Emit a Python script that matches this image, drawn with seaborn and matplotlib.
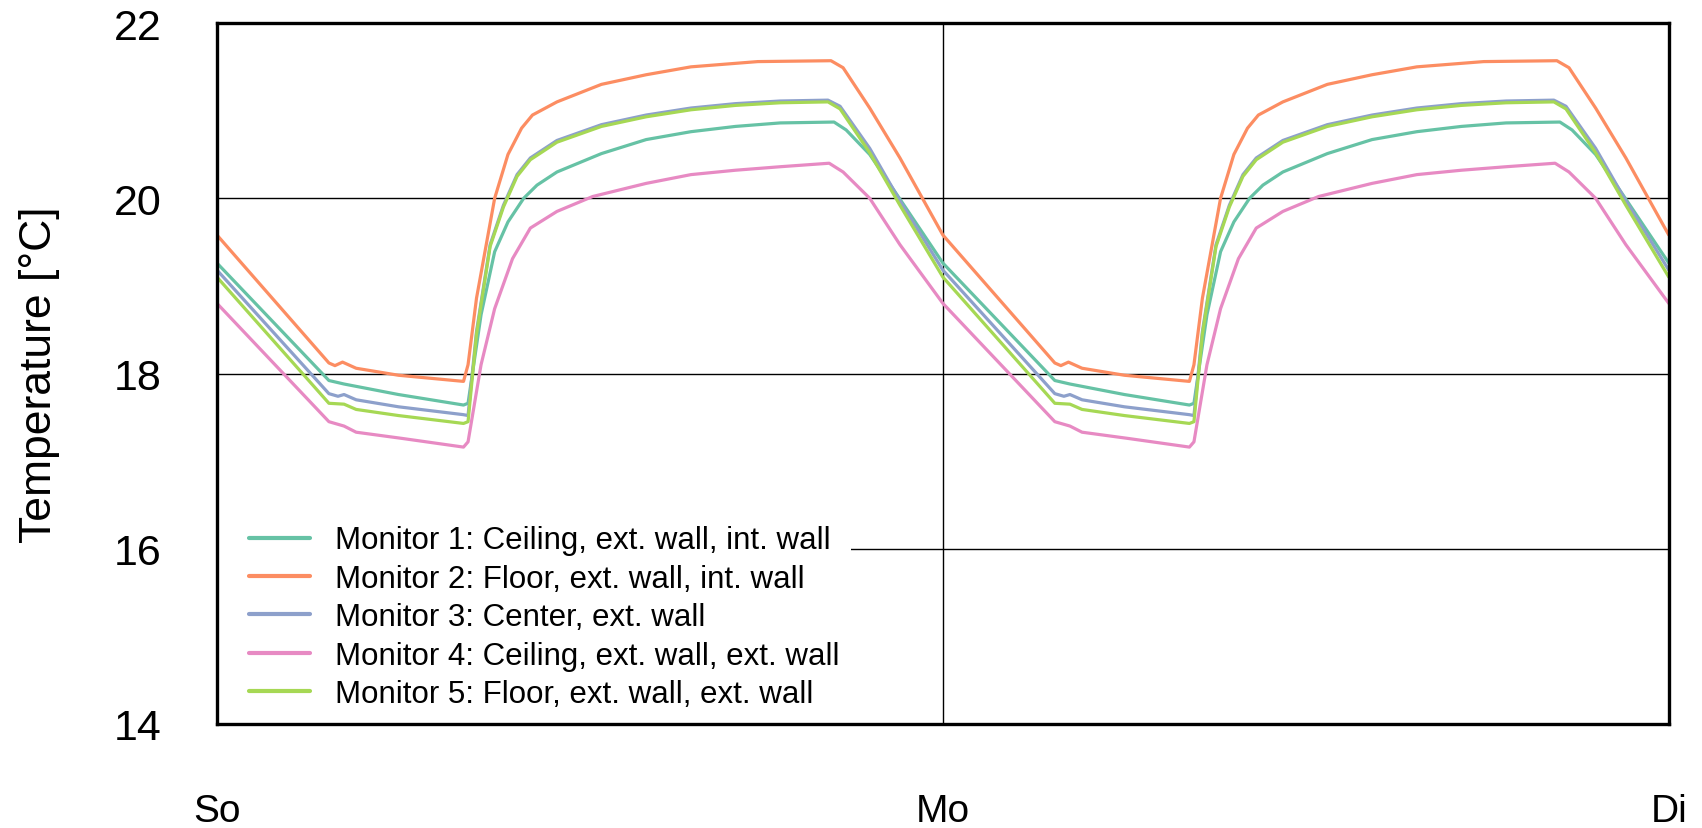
import numpy as np
import pandas as pd
import matplotlib
matplotlib.use("Agg")
import matplotlib.pyplot as plt
from matplotlib.lines import Line2D
from matplotlib.patches import Rectangle
import seaborn as sns

# ---- data (one representative day; the chart shows two identical days) ----
labels = [
    "Monitor 1: Ceiling, ext. wall, int. wall",
    "Monitor 2: Floor, ext. wall, int. wall",
    "Monitor 3: Center, ext. wall",
    "Monitor 4: Ceiling, ext. wall, ext. wall",
    "Monitor 5: Floor, ext. wall, ext. wall",
]

hours_m1 = [0, 3.7, 4.2, 6.0, 8.15, 8.3, 8.73, 9.18, 9.62, 10.14, 10.58, 11.24, 12.71, 14.19,
            15.67, 17.14, 18.62, 20.4, 20.8, 21.58, 22.58]
temp_m1 = [19.26, 17.92, 17.88, 17.76, 17.64, 17.66, 18.67, 19.39, 19.73, 20.0, 20.15, 20.3, 20.51, 20.67,
           20.76, 20.82, 20.86, 20.87, 20.78, 20.5, 19.99]

hours_m2 = [0, 3.7, 3.9, 4.15, 4.6, 6.0, 8.15, 8.3, 8.58, 8.88, 9.18, 9.62, 10.07, 10.43, 11.24,
            12.71, 14.19, 15.67, 17.88, 20.3, 20.7, 21.58, 22.58]
temp_m2 = [19.58, 18.12, 18.09, 18.13, 18.06, 17.98, 17.91, 18.1, 18.86, 19.43, 20.0, 20.5, 20.8, 20.95, 21.1,
           21.3, 21.41, 21.5, 21.56, 21.57, 21.49, 21.03, 20.46]

hours_m3 = [0, 3.7, 4.0, 4.2, 4.6, 6.0, 8.15, 8.3, 8.58, 9.03, 9.47, 9.92, 10.36, 11.24, 12.71,
            14.19, 15.67, 17.14, 18.62, 20.2, 20.6, 21.58, 22.58]
temp_m3 = [19.18, 17.77, 17.74, 17.76, 17.7, 17.62, 17.53, 17.52, 18.48, 19.47, 19.92, 20.27, 20.46, 20.66, 20.84,
           20.95, 21.03, 21.08, 21.11, 21.12, 21.05, 20.57, 19.97]

hours_m4 = [0, 3.7, 4.2, 4.6, 6.1, 8.15, 8.3, 8.73, 9.18, 9.77, 10.36, 11.24, 12.42, 14.19, 15.67,
            17.14, 18.62, 20.24, 20.7, 21.58, 22.58]
temp_m4 = [18.8, 17.45, 17.4, 17.33, 17.26, 17.16, 17.22, 18.1, 18.74, 19.31, 19.66, 19.85, 20.02, 20.17, 20.27,
           20.32, 20.36, 20.4, 20.3, 20.0, 19.47]

hours_m5 = [0, 3.7, 4.2, 4.6, 6.0, 8.15, 8.3, 8.58, 9.03, 9.47, 9.92, 10.36, 11.24, 12.71, 14.19,
            15.67, 17.14, 18.62, 20.2, 20.6, 21.58, 22.58]
temp_m5 = [19.1, 17.66, 17.65, 17.59, 17.52, 17.43, 17.45, 18.45, 19.45, 19.9, 20.25, 20.44, 20.64, 20.82, 20.93,
           21.01, 21.06, 21.09, 21.1, 21.02, 20.52, 19.92]

day_ticks = [0, 24, 48]
day_labels = ["So", "Mo", "Di"]
y_ticks = [14, 16, 18, 20, 22]

colors = ["#66c2a5", "#fc8d62", "#8da0cb", "#e78ac3", "#a6d854"]

# ---- build long-form table: day 1, day 2 and closing point at Di ----
series = [(hours_m1, temp_m1), (hours_m2, temp_m2), (hours_m3, temp_m3),
          (hours_m4, temp_m4), (hours_m5, temp_m5)]
rows = []
for lab, (h, t) in zip(labels, series):
    for d in (0, 24):
        for hh, tt in zip(h, t):
            rows.append((lab, hh + d, tt))
    rows.append((lab, 48, t[0]))
df = pd.DataFrame(rows, columns=["monitor", "hour", "temp"])

# ---- plot ----
sns.set_theme(style="white")
plt.rcParams["font.family"] = ["Liberation Sans", "DejaVu Sans"]

fig = plt.figure(figsize=(17.02, 8.29), dpi=100)
ax = fig.add_axes([0.1275, 0.1255, 0.853, 0.8455])

sns.lineplot(data=df, x="hour", y="temp", hue="monitor", hue_order=labels,
             palette=colors, linewidth=2.3, ax=ax, sort=False, estimator=None, legend=False)

ax.set_xlim(0, 48)
ax.set_ylim(14, 22)
ax.set_xticks(day_ticks)
ax.set_xticklabels(day_labels)
ax.set_yticks(y_ticks)
ax.tick_params(axis="x", length=0, pad=50, labelsize=28, colors="black")
ax.tick_params(axis="y", length=0, pad=40, labelsize=31, colors="black")
ax.set_xlabel("")
ax.set_ylabel("Temperature [°C]", fontsize=32, color="black", labelpad=38.5)

ax.grid(True, color="black", linewidth=1.0)
ax.set_axisbelow(True)
for s in ax.spines.values():
    s.set_visible(True)
    s.set_color("black")
    s.set_linewidth(2.4)
    s.set_zorder(10)

# white legend background that hides the grid line behind the legend
ax.add_patch(Rectangle((0, 0), 0.437, 0.31, transform=ax.transAxes,
                       facecolor="white", edgecolor="none", zorder=1))

handles = [Line2D([], [], color=c, linewidth=3.0) for c in colors]
leg = ax.legend(handles, labels, loc="lower left", bbox_to_anchor=(0.0222, 0.021),
                fontsize=22.5, frameon=False, borderaxespad=0, borderpad=0,
                labelspacing=0.27, handlelength=1.95, handletextpad=0.8,
                labelcolor="black")
leg.set_zorder(5)

fig.savefig("out.png", dpi=100)
